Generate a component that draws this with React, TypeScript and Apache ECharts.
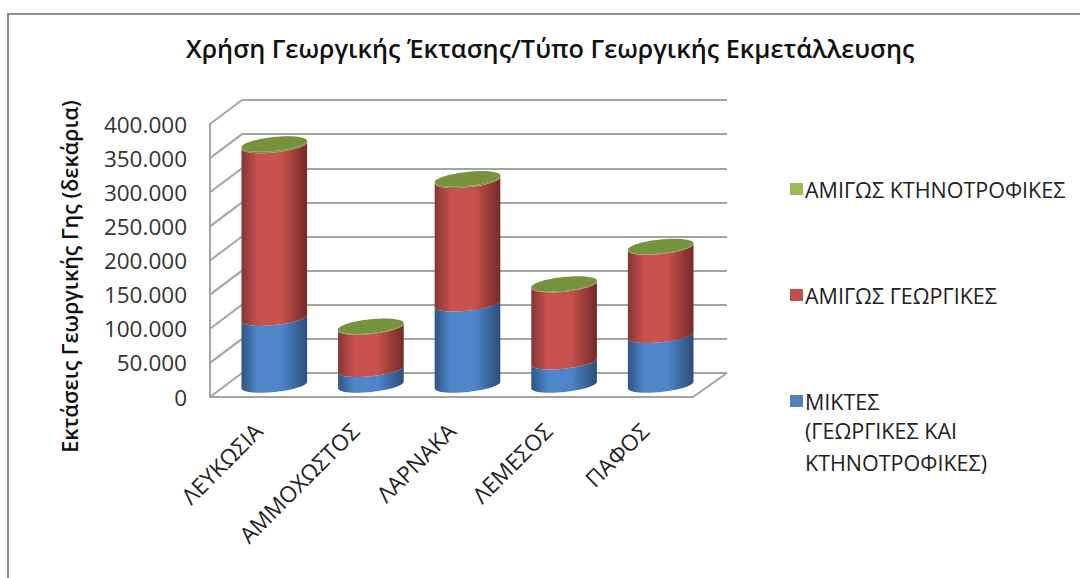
import React, { useEffect, useRef } from "react";
import * as echarts from "echarts";

const districts = ["ΛΕΥΚΩΣΙΑ", "ΑΜΜΟΧΩΣΤΟΣ", "ΛΑΡΝΑΚΑ", "ΛΕΜΕΣΟΣ", "ΠΑΦΟΣ"];
const mixedHoldings = [98000, 23000, 119000, 34000, 73000];
const cropHoldings = [253000, 62000, 181000, 113000, 129000];
const livestockHoldings = [2000, 1000, 2000, 1000, 1000];
const axisTicks = [0, 50000, 100000, 150000, 200000, 250000, 300000, 350000, 400000];

const MIXED = "ΜΙΚΤΕΣ";
const CROP = "ΑΜΙΓΩΣ ΓΕΩΡΓΙΚΕΣ";
const LIVESTOCK = "ΑΜΙΓΩΣ ΚΤΗΝΟΤΡΟΦΙΚΕΣ";

const FONT = "'Open Sans', sans-serif";
const WALL = "#a3a3a3";
const LEGEND_SIZE = 21.5;

// The plot is a box: the front plane carries the axes, the back plane the grid.
const FRONT = { left: 210, top: 124, width: 483, height: 273 };
const BACK = { left: 242, top: 100, width: 485, height: 273 };
const DEPTH_X = 32;
const DEPTH_Y = -24;

// Cylinder cross-section, slightly tilted as in a rotated 3D view.
const RADIUS_X = 33;
const RADIUS_Y = 7;
const TILT = (6 * Math.PI) / 180;
const KAPPA = 0.5523;

const shade = (edgeL: string, mid: string, edgeR: string) =>
  new echarts.graphic.LinearGradient(0, 0, 1, 0, [
    { offset: 0, color: edgeL },
    { offset: 0.25, color: mid },
    { offset: 0.6, color: mid },
    { offset: 1, color: edgeR },
  ]);

function stackRows(lower: number[], values: number[]) {
  return values.map((v, i) => [i, lower[i], lower[i] + v]);
}

const mixedRows = stackRows([0, 0, 0, 0, 0], mixedHoldings);
const cropRows = stackRows(mixedHoldings, cropHoldings);
const livestockRows = stackRows(
  mixedHoldings.map((v, i) => v + cropHoldings[i]),
  livestockHoldings,
);

// Point on the tilted ellipse from its major (u) and minor (v) components.
function ellipsePoint(cx: number, cy: number, u: number, v: number) {
  const x = cx + RADIUS_X * u * Math.cos(TILT) + RADIUS_Y * v * Math.sin(TILT);
  const y = cy - RADIUS_X * u * Math.sin(TILT) + RADIUS_Y * v * Math.cos(TILT);
  return `${x.toFixed(2)} ${y.toFixed(2)}`;
}

// Half ellipse as two Bézier quarters; dir = 1 goes through the front (lower)
// side, dir = -1 through the back. from is -1 (left end) or 1 (right end).
function halfArc(cx: number, cy: number, from: number, dir: number) {
  const p = (u: number, v: number) => ellipsePoint(cx, cy, u, v);
  return (
    `C ${p(from, dir * KAPPA)} ${p(from * KAPPA, dir)} ${p(0, dir)} ` +
    `C ${p(-from * KAPPA, dir)} ${p(-from, dir * KAPPA)} ${p(-from, 0)} `
  );
}

function cylinderItem(fill: any, capFill: string | null) {
  return (_params: any, api: any) => {
    const idx = api.value(0);
    const lo = api.coord([idx, api.value(1)]);
    const hi = api.coord([idx, api.value(2)]);
    const cx = lo[0] + DEPTH_X / 2;
    const yLo = lo[1] + DEPTH_Y / 2;
    const yHi = hi[1] + DEPTH_Y / 2;
    const body =
      `M ${ellipsePoint(cx, yHi, -1, 0)} L ${ellipsePoint(cx, yLo, -1, 0)} ` +
      halfArc(cx, yLo, -1, 1) +
      `L ${ellipsePoint(cx, yHi, 1, 0)} ` +
      halfArc(cx, yHi, 1, 1) +
      "Z";
    const children: any[] = [
      { type: "path", shape: { pathData: body }, style: { fill } },
    ];
    if (capFill) {
      children.push({
        type: "path",
        shape: {
          pathData:
            `M ${ellipsePoint(cx, yHi, -1, 0)} ` +
            halfArc(cx, yHi, -1, 1) +
            halfArc(cx, yHi, 1, -1) +
            "Z",
        },
        style: { fill: capFill },
      });
    }
    return { type: "group", children };
  };
}

// Side wall rungs and the floor's right edge, in front-plane axis coordinates.
function wallItem(_params: any, api: any) {
  const p = api.coord([0, api.value(0)]);
  const halfBand = api.size([1, 0])[0] / 2;
  const x0 = p[0] - halfBand;
  const shapes: any[] = [
    {
      type: "line",
      shape: { x1: x0, y1: p[1], x2: x0 + DEPTH_X, y2: p[1] + DEPTH_Y },
      style: { stroke: WALL, lineWidth: 2 },
    },
  ];
  if (api.value(0) === 0) {
    const r = api.coord([districts.length - 1, 0])[0] + halfBand;
    shapes.push({
      type: "line",
      shape: { x1: r, y1: p[1], x2: r + DEPTH_X + 2, y2: p[1] + DEPTH_Y },
      style: { stroke: WALL, lineWidth: 2 },
    });
  }
  return { type: "group", children: shapes };
}

const thousands = (v: number) => (v === 0 ? "0" : `${v / 1000}.000`);

function buildOption() {
  const cylinderSeries = (name: string, rows: number[][], color: string, fill: any, cap: string | null) => ({
    name,
    type: "custom",
    xAxisIndex: 0,
    yAxisIndex: 0,
    z: 5,
    itemStyle: { color },
    encode: { x: 0, y: [1, 2] },
    data: rows,
    clip: false,
    renderItem: cylinderItem(fill, cap),
  });

  return {
    animation: false,
    backgroundColor: "#ffffff",
    title: {
      text: "Χρήση Γεωργικής Έκτασης/Τύπο Γεωργικής Εκμετάλλευσης",
      left: 186,
      top: 35,
      padding: 0,
      textStyle: { fontFamily: FONT, fontSize: 25.25, fontWeight: 600, color: "#111111" },
    },
    legend: {
      left: 785,
      top: 172,
      orient: "vertical",
      itemWidth: 13,
      itemHeight: 12,
      itemGap: 82,
      icon: "rect",
      data: [LIVESTOCK, CROP, MIXED],
      selectedMode: false,
      textStyle: { fontFamily: FONT, fontSize: LEGEND_SIZE, color: "#222222", padding: [0, 0, 0, -3], lineHeight: 24 },
    },
    grid: [
      { ...FRONT, containLabel: false },
      { ...BACK, containLabel: false },
    ],
    xAxis: [
      {
        type: "category",
        gridIndex: 0,
        data: districts,
        axisTick: { show: false },
        axisLine: { lineStyle: { color: WALL, width: 2 } },
        axisLabel: { rotate: 45, margin: 30, fontFamily: FONT, fontSize: 22.5, color: "#222222", interval: 0 },
      },
      { type: "category", gridIndex: 1, data: districts, show: false },
    ],
    yAxis: [
      {
        type: "value",
        gridIndex: 0,
        min: 0,
        max: 400000,
        interval: 50000,
        name: "Εκτάσεις Γεωργικής Γης (δεκάρια)",
        nameLocation: "middle",
        nameGap: 130,
        nameTextStyle: { fontFamily: FONT, fontSize: 21.5, fontWeight: 600, color: "#111111", padding: [0, 32, 0, 0] },
        axisLine: { show: true, lineStyle: { color: WALL, width: 2 } },
        axisTick: { show: false },
        splitLine: { show: false },
        axisLabel: { margin: 23, fontFamily: FONT, fontSize: 22.5, color: "#333333", formatter: thousands },
      },
      {
        type: "value",
        gridIndex: 1,
        min: 0,
        max: 400000,
        interval: 50000,
        axisLine: { show: false },
        axisTick: { show: false },
        axisLabel: { show: false },
        splitLine: { show: true, lineStyle: { color: WALL, width: 2 } },
      },
    ],
    series: [
      {
        type: "custom",
        xAxisIndex: 0,
        yAxisIndex: 0,
        z: 1,
        silent: true,
        encode: { y: 0 },
        data: axisTicks.map((t) => [t]),
        clip: false,
        renderItem: wallItem,
      },
      cylinderSeries(MIXED, mixedRows, "#4f81bd", shade("#2f5685", "#4f86cb", "#2b4f78"), null),
      cylinderSeries(CROP, cropRows, "#c0504d", shade("#853634", "#c9524f", "#742a28"), null),
      cylinderSeries(LIVESTOCK, livestockRows, "#9bbb59", "#76923c", "#76923c"),
    ],
    graphic: [
      {
        type: "rect",
        z: -1,
        silent: true,
        shape: { x: 8, y: 14, width: 1200, height: 800 },
        style: { fill: "none", stroke: "#8e8e8e", lineWidth: 2 },
      },
      {
        type: "text",
        x: 805,
        y: 430,
        style: { text: "(ΓΕΩΡΓΙΚΕΣ ΚΑΙ", font: `${LEGEND_SIZE}px ${FONT}`, fill: "#222222", verticalAlign: "middle" },
      },
      {
        type: "text",
        x: 805,
        y: 462,
        style: { text: "ΚΤΗΝΟΤΡΟΦΙΚΕΣ)", font: `${LEGEND_SIZE}px ${FONT}`, fill: "#222222", verticalAlign: "middle" },
      },
    ],
  };
}

export default function App() {
  const ref = useRef<HTMLDivElement>(null);
  useEffect(() => {
    document.body.style.margin = "0";
    const chart = echarts.init(ref.current!, undefined, { renderer: "svg" });
    chart.setOption(buildOption() as any);
    return () => chart.dispose();
  }, []);
  return <div ref={ref} style={{ width: 1080, height: 578, overflow: "hidden" }} />;
}
